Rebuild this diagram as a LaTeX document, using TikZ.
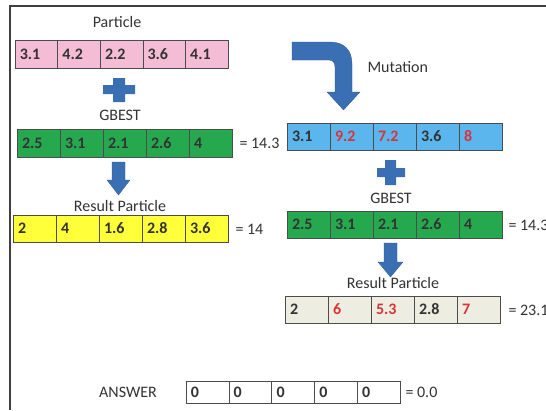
\documentclass[tikz,border=0pt]{standalone}
\usepackage{fontspec}
\setmainfont{Carlito}
\definecolor{pinkcell}{HTML}{F5BCD6}
\definecolor{greencell}{HTML}{26A94E}
\definecolor{yellowcell}{HTML}{FFFF3A}
\definecolor{bluecell}{HTML}{5CB6EE}
\definecolor{beigecell}{HTML}{EDEDE2}
\definecolor{arrowblue}{HTML}{3A6FB4}
\definecolor{redtxt}{HTML}{D8343A}
\definecolor{txt}{HTML}{333333}
\definecolor{greentxt}{HTML}{24502E}
\newcommand\rd[1]{\textcolor{redtxt}{#1}}
% one row of five cells: name, left x, top y, cell width, height, fill, values
\newcommand\cellrow[7]{%
  \foreach \v [count=\i] in {#7} {
    \node[cell, fill=#6, minimum width=#4, minimum height=#5]
      (#1-\i) at ({#2+(\i-0.5)*#4},{#3+#5/2}) {\v};
  }%
}
\begin{document}
\begin{tikzpicture}[x=1pt,y=-1pt,
  cell/.style={draw=black!70, line width=0.6pt, inner xsep=0pt, inner ysep=0pt,
    text width=33pt, align=left, font=\fontsize{16}{18}\selectfont\bfseries, text=txt},
  lbl/.style={font=\fontsize{16}{18}\selectfont, text=black!80},
  blockarrow/.style={fill=arrowblue, draw=arrowblue!80!black, line width=0.3pt}]
\useasboundingbox (0,0) rectangle (546,410);

% frame
\draw[line width=1.4pt, black!75] (10,410) -- (10,6) -- (546,6);

% left column
\node[lbl] (lpart) at (117,22) {Particle};
\cellrow{pa}{15}{40}{42.6}{28}{pinkcell}{3.1,4.2,2.2,3.6,4.1}
\fill[arrowblue] (103,85) rectangle (135,94) (113,78) rectangle (125,102);
\node[lbl] (lgb) at (120,115) {GBEST};
\begin{scope}[every node/.append style={text=greentxt}]
\cellrow{ga}{17}{129}{43}{28}{greencell}{2.5,3.1,2.1,2.6,4}
\end{scope}
\node[lbl, anchor=west] (lgbeq) at (236,143) {= 14.3};
\path[blockarrow] (112,162) -- (125,162) -- (125,180) -- (130,180) -- (118.5,195)
  -- (107,180) -- (112,180) -- cycle;
\node[lbl] (lres) at (120,206) {Result Particle};
\cellrow{ya}{13}{215}{43}{27}{yellowcell}{2,4,1.6,2.8,3.6}
\node[lbl, anchor=west] (lreseq) at (232,229) {= 14};

% right column
\path[blockarrow] (292,42) -- (330,42) .. controls (344,42) and (352,50) .. (352,64)
  -- (352,92) -- (360,92) -- (343.5,110) -- (327,92) -- (335,92) -- (335,67)
  .. controls (335,63) and (333,60) .. (329,60) -- (292,60) -- cycle;
\node[lbl, anchor=west] (lmut) at (364,67) {Mutation};
\cellrow{ba}{287}{123}{43}{27}{bluecell}{3.1,\rd{9.2},\rd{7.2},3.6,\rd{8}}
\fill[arrowblue] (377,168) rectangle (405,177) (385,160) rectangle (396,185);
\node[lbl] (rgb) at (391,198) {GBEST};
\begin{scope}[every node/.append style={text=greentxt}]
\cellrow{gb}{287}{211}{43}{27}{greencell}{2.5,3.1,2.1,2.6,4}
\end{scope}
\node[lbl, anchor=west] (rgbeq) at (505,225) {= 14.3};
\path[blockarrow] (384,243) -- (397,243) -- (397,262) -- (403,262) -- (390.5,277)
  -- (378,262) -- (384,262) -- cycle;
\node[lbl] (rres) at (393,283) {Result Particle};
\cellrow{ra}{285}{296}{43}{27}{beigecell}{2,\rd{6},\rd{5.3},2.8,\rd{7}}
\node[lbl, anchor=west] (rreseq) at (505,310) {= 23.1};

% answer row
\node[lbl] (lans) at (128,392) {ANSWER};
\cellrow{an}{186}{381}{42.8}{22}{white}{0,0,0,0,0}
\node[lbl, anchor=west] (anseq) at (402,392) {= 0.0};
\end{tikzpicture}
\end{document}
